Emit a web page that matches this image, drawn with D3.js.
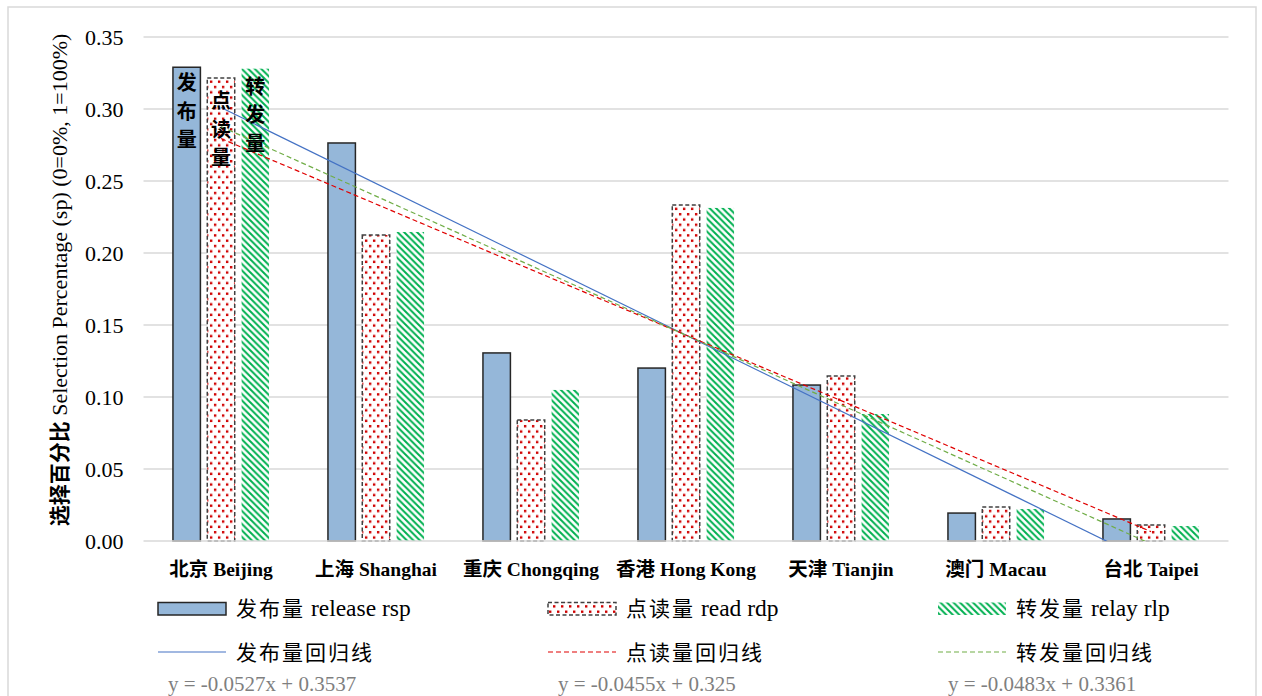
<!DOCTYPE html>
<html>
<head>
<meta charset="utf-8">
<script src="https://cdn.jsdelivr.net/npm/d3@7"></script>
<style>
  html, body { margin: 0; padding: 0; background: #fff; }
  svg { display: block; }
</style>
</head>
<body>
<svg id="chart" width="1262" height="696"></svg>
<script>
// Cities on the category axis
const categories = ["北京 Beijing", "上海 Shanghai", "重庆 Chongqing", "香港 Hong Kong", "天津 Tianjin", "澳门 Macau", "台北 Taipei"];

// Selection percentage per city for each measure
const releaseRsp = [0.329, 0.2764, 0.1306, 0.1201, 0.1083, 0.0194, 0.0153];
const readRdp    = [0.3215, 0.2125, 0.0840, 0.2333, 0.1146, 0.0236, 0.0111];
const relayRlp   = [0.3280, 0.2146, 0.1049, 0.2313, 0.0882, 0.0222, 0.0104];

const seriesNames = ["发布量 release rsp", "点读量 read rdp", "转发量 relay rlp"];
const barLabels = ["发布量", "点读量", "转发量"];

// Linear trend lines (x = city index 1..7)
const trendNames = ["发布量回归线", "点读量回归线", "转发量回归线"];
const trendSlopes = [-0.0527, -0.0455, -0.0483];
const trendIntercepts = [0.3537, 0.325, 0.3361];

const yTicks = [0, 0.05, 0.10, 0.15, 0.20, 0.25, 0.30, 0.35];
const yTitle = ["选择百分比", " Selection Percentage (sp) (0=0%, 1=100%)"];

const series = [releaseRsp, readRdp, relayRlp];

const svg = d3.select("#chart");
const serif = "'Liberation Serif', 'Noto Sans CJK SC', serif";
const cjk = "'Noto Sans CJK SC', 'Liberation Serif', sans-serif";

// Outer chart frame
svg.append("rect")
  .attr("x", 8).attr("y", 7).attr("width", 1248).attr("height", 700)
  .attr("fill", "#fff").attr("stroke", "#d9d9d9").attr("stroke-width", 1.5);

// Fill patterns
const defs = svg.append("defs");
const dots = defs.append("pattern").attr("id", "dots")
  .attr("patternUnits", "userSpaceOnUse").attr("width", 8).attr("height", 10.6);
dots.append("rect").attr("width", 8).attr("height", 10.6).attr("fill", "#fff");
dots.append("rect").attr("x", 1).attr("y", 1).attr("width", 2.4).attr("height", 2.4).attr("fill", "#d00000");
dots.append("rect").attr("x", 5).attr("y", 6.3).attr("width", 2.4).attr("height", 2.4).attr("fill", "#d00000");

const hatch = defs.append("pattern").attr("id", "hatch")
  .attr("patternUnits", "userSpaceOnUse").attr("width", 6.5).attr("height", 6.5);
hatch.append("rect").attr("width", 6.5).attr("height", 6.5).attr("fill", "#fff");
hatch.append("path").attr("d", "M-1,-1 L7.5,7.5 M-1,5.5 L1,7.5 M5.5,-1 L7.5,1")
  .attr("stroke", "#00b050").attr("stroke-width", 2.0);

const plot = { left: 143.5, right: 1228.5, top: 37, bottom: 541 };

const x0 = d3.scaleBand().domain(categories)
  .range([plot.left, plot.right]).paddingInner(0.38).paddingOuter(0.19);
const x1 = d3.scaleBand().domain(d3.range(3)).range([0, x0.bandwidth()]).paddingInner(0.2);
const y = d3.scaleLinear().domain([0, 0.35]).range([plot.bottom, plot.top]);

// Horizontal gridlines
svg.append("g").selectAll("line").data(yTicks.slice(1)).join("line")
  .attr("x1", plot.left).attr("x2", plot.right)
  .attr("y1", d => y(d)).attr("y2", d => y(d))
  .attr("stroke", "#d9d9d9").attr("stroke-width", 1.5);

// Y axis tick labels
const yAxis = svg.append("g").attr("transform", `translate(${plot.left},0)`)
  .call(d3.axisLeft(y).tickValues(yTicks).tickFormat(d3.format(".2f")).tickSize(0).tickPadding(20));
yAxis.select(".domain").remove();
yAxis.selectAll("text").attr("font-family", serif).attr("font-size", 22).attr("fill", "#000");

// Bars
const barStyles = [
  { fill: "#95b7d9", stroke: "#262626", dash: null, width: 1.5 },
  { fill: "url(#dots)", stroke: "#404040", dash: "4,2.5", width: 1.5 },
  { fill: "url(#hatch)", stroke: "none", dash: null, width: 0 }
];
const groups = svg.append("g").selectAll("g").data(categories).join("g")
  .attr("transform", d => `translate(${x0(d)},0)`);
groups.selectAll("rect")
  .data((c, i) => series.map((s, k) => ({ k, v: s[i] })))
  .join("rect")
  .attr("x", d => x1(d.k)).attr("width", x1.bandwidth())
  .attr("y", d => y(d.v)).attr("height", d => y(0) - y(d.v))
  .attr("fill", d => barStyles[d.k].fill)
  .attr("stroke", d => barStyles[d.k].stroke)
  .attr("stroke-width", d => barStyles[d.k].width)
  .attr("stroke-dasharray", d => barStyles[d.k].dash);

// Category axis line
svg.append("line").attr("x1", plot.left).attr("x2", plot.right)
  .attr("y1", y(0)).attr("y2", y(0)).attr("stroke", "#d9d9d9").attr("stroke-width", 1.5);

// Category labels
svg.append("g").selectAll("text").data(categories).join("text")
  .attr("x", d => x0(d) + x0.bandwidth() / 2).attr("y", 576)
  .attr("text-anchor", "middle").attr("font-family", serif)
  .attr("font-weight", "bold").attr("font-size", 19.5).text(d => d);

// Trend lines, clipped to the plot area
defs.append("clipPath").attr("id", "plotClip").append("rect")
  .attr("x", plot.left).attr("y", plot.top)
  .attr("width", plot.right - plot.left).attr("height", plot.bottom - plot.top);
const xIdx = d3.scaleLinear().domain([1, 7])
  .range([x0(categories[0]) + x0.bandwidth() / 2, x0(categories[6]) + x0.bandwidth() / 2]);
const trendStyles = [
  { color: "#4472c4", dash: null },
  { color: "#e00000", dash: "5,3" },
  { color: "#70ad47", dash: "5,3" }
];
const line = d3.line().x(d => xIdx(d[0])).y(d => y(d[1]));
svg.append("g").attr("clip-path", "url(#plotClip)").selectAll("path")
  .data(trendSlopes.map((m, k) => ({ k, pts: [1, 7].map(t => [t, m * t + trendIntercepts[k]]) })))
  .join("path")
  .attr("d", d => line(d.pts)).attr("fill", "none")
  .attr("stroke", d => trendStyles[d.k].color).attr("stroke-width", 1.2)
  .attr("stroke-dasharray", d => trendStyles[d.k].dash);

// Vertical series labels on the first city's bars
const labelOffsets = [16, 23, 18];
barLabels.forEach((lab, k) => {
  const cx = x0(categories[0]) + x1(k) + x1.bandwidth() / 2;
  const top = y(series[k][0]);
  svg.append("g").selectAll("text").data(Array.from(lab)).join("text")
    .attr("x", cx).attr("y", (d, j) => top + labelOffsets[k] + j * 28.5)
    .attr("dy", "0.36em").attr("text-anchor", "middle")
    .attr("font-family", cjk).attr("font-weight", "bold").attr("font-size", 20)
    .attr("fill", "#000").text(d => d);
});

// Y axis title
const yt = svg.append("text")
  .attr("transform", "translate(67,280) rotate(-90)")
  .attr("text-anchor", "middle").attr("font-family", serif).attr("font-size", 22).attr("fill", "#000");
yt.append("tspan").attr("font-family", cjk).attr("font-weight", "bold").attr("font-size", 21).text(yTitle[0]);
yt.append("tspan").text(yTitle[1]);

// Legend
const legendX = [158, 548, 938];
const legend = svg.append("g");
seriesNames.forEach((name, k) => {
  const lx = legendX[k];
  legend.append("rect").attr("x", lx).attr("y", 602.5).attr("width", 68).attr("height", 12.5)
    .attr("fill", barStyles[k].fill).attr("stroke", barStyles[k].stroke)
    .attr("stroke-width", barStyles[k].width).attr("stroke-dasharray", barStyles[k].dash);
  const [zh, en] = [name.split(" ")[0], name.slice(name.indexOf(" "))];
  const t = legend.append("text").attr("x", lx + 78).attr("y", 616)
    .attr("font-size", 23.5).attr("fill", "#000");
  t.append("tspan").attr("font-family", cjk).attr("font-size", 21).attr("letter-spacing", 2).text(zh);
  t.append("tspan").attr("font-family", serif).text(en);

  legend.append("line").attr("x1", lx).attr("x2", lx + 68).attr("y1", 652).attr("y2", 652)
    .attr("stroke", trendStyles[k].color).attr("stroke-width", 1.2)
    .attr("stroke-dasharray", trendStyles[k].dash);
  legend.append("text").attr("x", lx + 78).attr("y", 660)
    .attr("font-family", cjk).attr("font-size", 21).attr("letter-spacing", 2)
    .attr("fill", "#000").text(trendNames[k]);

  legend.append("text").attr("x", lx + 10).attr("y", 691)
    .attr("font-family", serif).attr("font-size", 21).attr("fill", "#7f7f7f")
    .text(`y = ${trendSlopes[k]}x + ${trendIntercepts[k]}`);
});
</script>
</body>
</html>
